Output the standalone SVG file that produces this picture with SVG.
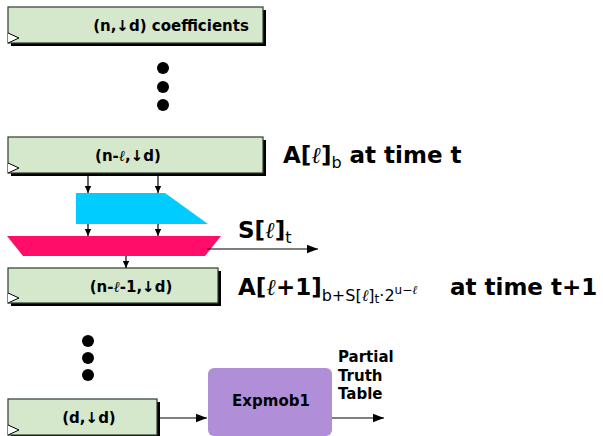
<svg xmlns="http://www.w3.org/2000/svg" width="603" height="436" viewBox="0 0 603 436">
<style>
.box{fill:#d5e8cc;stroke:#2e3d2e;stroke-width:1.2}
.shadow{fill:#000}
.clk{fill:#fff;stroke:#000;stroke-width:1}
.bt{font-family:"DejaVu Sans",sans-serif;font-weight:bold;font-size:15px;fill:#000}
.lb{font-family:"DejaVu Sans",sans-serif;font-weight:bold;font-size:23px;fill:#000}
.sub{font-family:"DejaVu Sans",sans-serif;font-weight:normal;font-size:16px;fill:#000}
.ell{font-family:"DejaVu Serif",serif;font-style:italic;font-weight:normal}
.ln{stroke:#000;stroke-width:1.2;fill:none}
.dot{fill:#000}
</style>
<defs>
<marker id="ah" markerWidth="8" markerHeight="8" refX="7" refY="4" orient="auto" markerUnits="userSpaceOnUse">
<path d="M0,0.8 L7,4 L0,7.2 Z" fill="#000"/>
</marker>
<marker id="ahl" markerWidth="12" markerHeight="10" refX="11" refY="5" orient="auto" markerUnits="userSpaceOnUse">
<path d="M0,0.8 L11,5 L0,9.2 Z" fill="#000"/>
</marker>
</defs>

<g id="reg-top">
<rect class="shadow" x="11" y="10" width="255" height="36"/>
<rect class="box" x="8" y="7" width="255" height="36"/>
<path class="clk" d="M8,33 L19,38 L8,43"/>
<text class="bt" x="171" y="31" text-anchor="middle">(n,↓d) coefficients</text>
</g>

<g id="dots-top">
<circle class="dot" cx="163" cy="68" r="6"/>
<circle class="dot" cx="163" cy="87" r="6"/>
<circle class="dot" cx="163" cy="105" r="6"/>
</g>

<g id="reg-l">
<rect class="shadow" x="11" y="140" width="255" height="36"/>
<rect class="box" x="8" y="137" width="255" height="36"/>
<path class="clk" d="M8,163 L19,168 L8,173"/>
<text class="bt" x="128" y="161" text-anchor="middle">(n-<tspan class="ell">ℓ</tspan>,↓d)</text>
</g>

<g id="label-a">
<text class="lb" x="283" y="163">A[<tspan class="ell">ℓ</tspan>]<tspan class="sub" dy="5">b</tspan><tspan dy="-5"> at time t</tspan></text>
</g>

<g id="cyan">
<polygon points="76,193 165,193 208,224 76,224" fill="#00ccff"/>
</g>

<g id="pink">
<polygon points="7,236 221,236 205,256 23,256" fill="#ff0d68"/>
</g>

<g id="label-s">
<text class="lb" x="238" y="238">S[<tspan class="ell">ℓ</tspan>]<tspan class="sub" font-size="17" dy="5">t</tspan></text>
</g>

<g id="reg-l1">
<rect class="shadow" x="11" y="271" width="210" height="35"/>
<rect class="box" x="8" y="268" width="210" height="35"/>
<path class="clk" d="M8,293 L19,298 L8,303"/>
<text class="bt" x="131" y="292" text-anchor="middle">(n-<tspan class="ell">ℓ</tspan>-1,↓d)</text>
</g>

<g id="label-a1">
<text class="lb" x="238" y="295">A[<tspan class="ell">ℓ</tspan>+1]<tspan class="sub" dy="6">b+S[<tspan class="ell">ℓ</tspan>]<tspan font-size="12" dy="2">t</tspan><tspan dy="-2">·2</tspan><tspan font-size="12" dy="-7">u−<tspan class="ell">ℓ</tspan></tspan></tspan></text>
<text class="lb" x="450" y="295">at time t+1</text>
</g>

<g id="dots-bottom">
<circle class="dot" cx="88" cy="341" r="6"/>
<circle class="dot" cx="88" cy="358" r="6"/>
<circle class="dot" cx="88" cy="375" r="6"/>
</g>

<g id="reg-d">
<rect class="shadow" x="11" y="402" width="149" height="36"/>
<rect class="box" x="8" y="399" width="149" height="36"/>
<path class="clk" d="M8,425 L19,430 L8,435"/>
<text class="bt" x="89" y="423" text-anchor="middle">(d,↓d)</text>
</g>

<g id="expmob">
<rect x="208" y="368" width="124" height="68" rx="6" fill="#b08fd8"/>
<text class="bt" x="271" y="406" text-anchor="middle" font-size="16">Expmob1</text>
</g>

<g id="label-ptt">
<text class="bt" x="338" y="362" font-size="14">Partial</text>
<text class="bt" x="338" y="381" font-size="14">Truth</text>
<text class="bt" x="338" y="399" font-size="14">Table</text>
</g>

<g id="connectors">
<line class="ln" x1="88" y1="174" x2="88" y2="193" marker-end="url(#ah)"/>
<line class="ln" x1="158" y1="174" x2="158" y2="193" marker-end="url(#ah)"/>
<line class="ln" x1="88" y1="224" x2="88" y2="236" marker-end="url(#ah)"/>
<line class="ln" x1="158" y1="224" x2="158" y2="236" marker-end="url(#ah)"/>
<line class="ln" x1="126" y1="256" x2="126" y2="268" marker-end="url(#ah)"/>
<line class="ln" x1="207" y1="249" x2="318" y2="249" marker-end="url(#ahl)"/>
<line class="ln" x1="160" y1="418" x2="207" y2="418" marker-end="url(#ahl)"/>
<line class="ln" x1="332" y1="418" x2="384" y2="418" marker-end="url(#ahl)"/>
</g>
</svg>
